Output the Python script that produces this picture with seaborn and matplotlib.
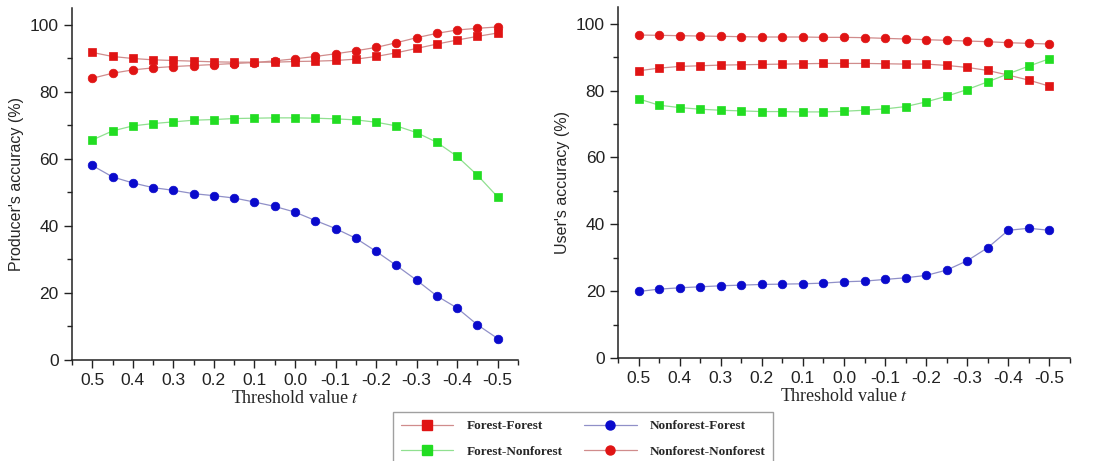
import numpy as np
import pandas as pd
import matplotlib
matplotlib.use("Agg")
import matplotlib.pyplot as plt
from matplotlib.lines import Line2D
from matplotlib.ticker import MultipleLocator
import seaborn as sns

# valores de limiar (eixo x invertido: 0.5 -> -0.5)
thresholds = [0.5, 0.45, 0.4, 0.35, 0.3, 0.25, 0.2, 0.15, 0.1, 0.05, 0.0,
              -0.05, -0.1, -0.15, -0.2, -0.25, -0.3, -0.35, -0.4, -0.45, -0.5]

# Producer's accuracy (%)
pa_forest_forest = [91.7, 90.5, 89.9, 89.5, 89.3, 89.1, 88.9, 88.8, 88.8, 88.8, 89.0,
                    89.1, 89.3, 89.7, 90.5, 91.6, 92.9, 94.2, 95.4, 96.5, 97.5]
pa_nonforest_nonforest = [84.0, 85.5, 86.5, 87.1, 87.5, 87.8, 88.1, 88.4, 88.7, 89.2, 89.8,
                          90.5, 91.3, 92.2, 93.2, 94.6, 96.1, 97.4, 98.4, 98.9, 99.3]
pa_forest_nonforest = [65.6, 68.3, 69.8, 70.5, 71.0, 71.5, 71.7, 72.0, 72.1, 72.2, 72.2,
                       72.1, 71.9, 71.6, 70.9, 69.8, 67.8, 64.9, 60.7, 55.1, 48.6]
pa_nonforest_forest = [58.0, 54.6, 52.8, 51.4, 50.6, 49.6, 49.0, 48.3, 47.1, 45.8, 44.1,
                       41.6, 39.2, 36.3, 32.4, 28.2, 23.8, 19.1, 15.5, 10.5, 6.4]

# User's accuracy (%)
ua_forest_forest = [85.9, 86.7, 87.2, 87.4, 87.6, 87.7, 87.8, 87.9, 88.0, 88.1, 88.1,
                    88.1, 88.0, 87.9, 87.9, 87.5, 86.9, 86.0, 84.6, 83.1, 81.3]
ua_nonforest_nonforest = [96.6, 96.5, 96.4, 96.3, 96.2, 96.1, 96.0, 96.0, 96.0, 95.9, 95.9,
                          95.8, 95.6, 95.4, 95.2, 95.0, 94.8, 94.6, 94.3, 94.1, 93.9]
ua_forest_nonforest = [77.5, 75.6, 74.9, 74.4, 74.1, 73.9, 73.7, 73.7, 73.6, 73.6, 73.8,
                       74.1, 74.5, 75.2, 76.6, 78.3, 80.3, 82.6, 85.0, 87.3, 89.5]
ua_nonforest_forest = [19.9, 20.6, 21.0, 21.3, 21.6, 21.8, 22.0, 22.1, 22.2, 22.4, 22.8,
                       23.0, 23.5, 24.0, 24.7, 26.3, 29.1, 33.0, 38.2, 38.8, 38.2]

series_names = ["Forest-Forest", "Forest-Nonforest", "Nonforest-Forest", "Nonforest-Nonforest"]
x_ticks = [0.5, 0.4, 0.3, 0.2, 0.1, 0.0, -0.1, -0.2, -0.3, -0.4, -0.5]

# estilo de cada série: (cor do marcador, cor da linha, marcador)
estilos = {
    "Forest-Forest": ("#e01414", "#d08c8c", "s"),
    "Forest-Nonforest": ("#22dd22", "#90e090", "s"),
    "Nonforest-Forest": ("#0a0acc", "#9090c8", "o"),
    "Nonforest-Nonforest": ("#e01414", "#d08c8c", "o"),
}

sns.set_style("ticks")
plt.rcParams["font.family"] = ["Liberation Sans", "DejaVu Sans"]
plt.rcParams["axes.unicode_minus"] = False
plt.rcParams["mathtext.fontset"] = "stix"

fig = plt.figure(figsize=(10.94, 4.61), dpi=100)
ax1 = fig.add_axes([0.0658, 0.219, 0.4077, 0.764])
ax2 = fig.add_axes([0.565, 0.2234, 0.413, 0.7616])


def desenha(ax, valores, ylabel):
    df = pd.DataFrame({"t": thresholds * 4,
                       "acc": sum(valores, []),
                       "serie": np.repeat(series_names, len(thresholds))})
    for nome in series_names:
        cor_m, cor_l, mk = estilos[nome]
        sub = df[df["serie"] == nome]
        sns.lineplot(data=sub, x="t", y="acc", ax=ax, color=cor_l, lw=0.9,
                     marker=mk, markersize=6.2 if mk == "o" else 5.6,
                     markerfacecolor=cor_m, markeredgecolor=cor_m, markeredgewidth=0.5,
                     legend=False, sort=False)
    ax.set_xlim(0.55, -0.55)
    ax.set_ylim(0, 105)
    ax.set_xticks(x_ticks)
    ax.set_xticklabels([f"{v:.1f}" for v in x_ticks])
    ax.xaxis.set_minor_locator(MultipleLocator(0.05))
    ax.set_yticks([0, 20, 40, 60, 80, 100])
    ax.yaxis.set_minor_locator(MultipleLocator(10))
    ax.tick_params(which="major", direction="out", length=6, width=1, labelsize=12.5, colors="#222222")
    ax.tick_params(which="minor", direction="out", length=3.5, width=1, colors="#222222")
    for s in ["left", "bottom"]:
        ax.spines[s].set_linewidth(1.1)
        ax.spines[s].set_color("#222222")
    sns.despine(ax=ax)
    ax.set_xlabel("Threshold value $t$", family=["Liberation Serif"], fontsize=13, labelpad=1)
    ax.set_ylabel(ylabel, fontsize=11.5, labelpad=4)


desenha(ax1, [pa_forest_forest, pa_forest_nonforest, pa_nonforest_forest, pa_nonforest_nonforest],
        "Producer's accuracy (%)")
desenha(ax2, [ua_forest_forest, ua_forest_nonforest, ua_nonforest_forest, ua_nonforest_nonforest],
        "User's accuracy (%)")

handles = []
for nome in series_names:
    cor_m, cor_l, mk = estilos[nome]
    handles.append(Line2D([], [], color=cor_l, lw=0.9, marker=mk, markersize=6.5,
                          markerfacecolor=cor_m, markeredgecolor=cor_m))

fig.legend(handles, series_names, loc="upper center", bbox_to_anchor=(0.533, 0.12),
           ncol=2, frameon=True, fancybox=False, edgecolor="#888888", handlelength=4.0,
           handletextpad=1.0, columnspacing=1.6, borderpad=0.6, labelspacing=1.0,
           prop={"family": "Liberation Serif", "weight": "bold", "size": 9.5})

fig.savefig("out.png", dpi=100)
